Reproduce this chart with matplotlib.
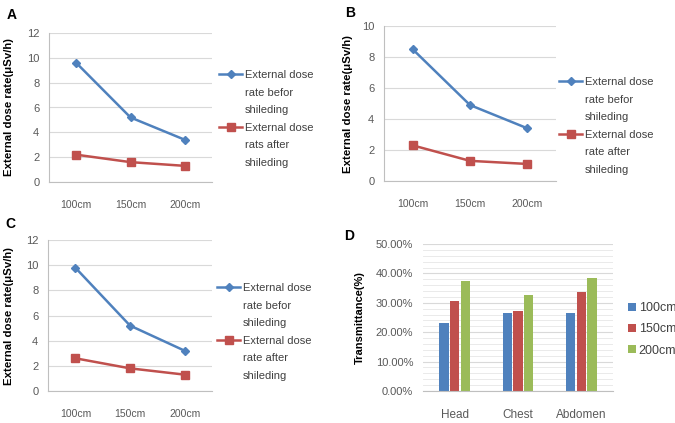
import matplotlib
matplotlib.use("Agg")
import matplotlib.pyplot as plt
from matplotlib.lines import Line2D
import numpy as np

plt.rcParams['font.family'] = ['Liberation Sans', 'DejaVu Sans']

distances = ['100cm', '150cm', '200cm']
a_before = [9.6, 5.2, 3.4]
a_after = [2.2, 1.6, 1.3]
b_before = [8.5, 4.9, 3.4]
b_after = [2.3, 1.3, 1.1]
c_before = [9.8, 5.2, 3.2]
c_after = [2.6, 1.8, 1.3]

parts = ['Head', 'Chest', 'Abdomen']
t_100 = [23.2, 26.4, 26.4]
t_150 = [30.6, 27.2, 33.8]
t_200 = [37.5, 32.7, 38.5]

BLUE = '#4F81BD'
RED = '#C0504D'
GREEN = '#9BBB59'
GRID = '#d9d9d9'
TICK = '#595959'

W, H = 675, 423
fig = plt.figure(figsize=(W / 100, H / 100), dpi=100)


def rect(l, t, r, b):
    return [l / W, 1 - b / H, (r - l) / W, (b - t) / H]


def style_axes(ax, xfs=7.5, yfs=8):
    for s in ['top', 'right']:
        ax.spines[s].set_visible(False)
    ax.spines['left'].set_color('#bfbfbf')
    ax.spines['bottom'].set_color('#bfbfbf')
    ax.spines['left'].set_linewidth(0.8)
    ax.spines['bottom'].set_linewidth(0.8)
    ax.tick_params(axis='both', length=0, labelcolor=TICK)
    ax.tick_params(axis='x', labelsize=xfs, pad=13)
    ax.tick_params(axis='y', labelsize=yfs, pad=7)
    ax.set_axisbelow(True)
    ax.yaxis.grid(True, color=GRID, linewidth=0.8)


def line_panel(ax, before, after, ymax, second_label, leg_x, leg_y, letter, lx, ly, ylab_x):
    x = np.arange(len(distances))
    ax.plot(x, before, color=BLUE, lw=1.8, marker='D', ms=4, mfc=BLUE, mec=BLUE)
    ax.plot(x, after, color=RED, lw=1.8, marker='s', ms=5.5, mfc=RED, mec=RED)
    ax.set_xlim(-0.5, len(distances) - 0.5)
    ax.set_ylim(0, ymax)
    ax.set_yticks(np.arange(0, ymax + 1, 2))
    ax.set_xticks(x)
    ax.set_xticklabels(distances)
    style_axes(ax)
    ax.set_ylabel('External dose rate(μSv/h)', fontsize=8.2, fontweight='bold')
    ax.yaxis.set_label_coords(ylab_x, 0.5)
    blank = Line2D([], [], linestyle='none')
    h1 = Line2D([], [], color=BLUE, lw=1.8, marker='D', ms=4)
    h2 = Line2D([], [], color=RED, lw=1.8, marker='s', ms=5.5)
    labels = ['External dose', 'rate befor', 'shileding'] + second_label
    handles = [h1, blank, blank, h2, blank, blank]
    leg = ax.legend(handles, labels, loc='upper left', bbox_to_anchor=(leg_x / W, 1 - leg_y / H),
                    bbox_transform=fig.transFigure, frameon=False, fontsize=8,
                    handlelength=2.1, handletextpad=0.2, labelspacing=0.68,
                    borderpad=0, borderaxespad=0)
    for t in leg.get_texts():
        t.set_color('#404040')
    fig.text(lx / W, 1 - ly / H, letter, fontsize=10, fontweight='bold', ha='left', va='center')


axA = fig.add_axes(rect(49, 33, 212, 182))
line_panel(axA, a_before, a_after, 12, ['External dose', 'rats after', 'shileding'],
           219, 70, 'A', 7, 15, -0.215)

axB = fig.add_axes(rect(384, 26, 556, 181))
line_panel(axB, b_before, b_after, 10, ['External dose', 'rate after', 'shileding'],
           559, 77, 'B', 345, 13, -0.183)

axC = fig.add_axes(rect(48, 240, 212, 391))
line_panel(axC, c_before, c_after, 12, ['External dose', 'rate after', 'shileding'],
           217, 283, 'C', 5, 224, -0.207)

# Panel D
axD = fig.add_axes(rect(423, 244, 613, 391))
x = np.arange(len(parts))
bw = 0.15
off = 0.168
axD.bar(x - off, t_100, bw, color=BLUE, label='100cm')
axD.bar(x, t_150, bw, color=RED, label='150cm')
axD.bar(x + off, t_200, bw, color=GREEN, label='200cm')
axD.set_xlim(-0.5, len(parts) - 0.5)
axD.set_ylim(0, 50)
axD.set_yticks(np.arange(0, 51, 10))
axD.set_yticklabels([f'{v:.2f}%' for v in np.arange(0, 51, 10)])
axD.set_yticks(np.arange(0, 51, 2), minor=True)
axD.set_xticks(x)
axD.set_xticklabels(parts)
style_axes(axD, xfs=8.5, yfs=8)
axD.tick_params(axis='y', which='minor', length=0)
axD.yaxis.grid(True, which='minor', color='#e6e6e6', linewidth=0.6)
axD.spines['left'].set_visible(False)
axD.set_ylabel('Transmittance(%)', fontsize=8, fontweight='bold')
axD.yaxis.set_label_coords(-0.305, 0.5)
legD = axD.legend(loc='upper left', bbox_to_anchor=(628 / W, 1 - 302 / H), bbox_transform=fig.transFigure,
                  frameon=False, fontsize=9, handlelength=0.6, handleheight=0.6,
                  handletextpad=0.25, labelspacing=0.75, borderpad=0, borderaxespad=0)
for t in legD.get_texts():
    t.set_color('#404040')
fig.text(344 / W, 1 - 236 / H, 'D', fontsize=10, fontweight='bold', ha='left', va='center')

fig.savefig('out.png', dpi=100)
